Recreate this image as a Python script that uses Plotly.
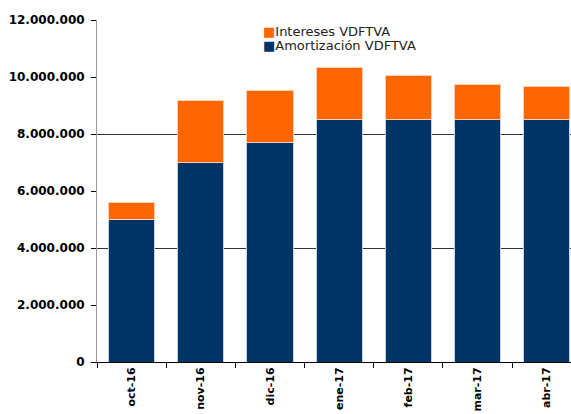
import plotly.graph_objects as go

# Meses y valores
months = ["oct-16", "nov-16", "dic-16", "ene-17", "feb-17", "mar-17", "abr-17"]
amortizacion = [5000000, 7000000, 7700000, 8500000, 8500000, 8500000, 8500000]
intereses = [580000, 2180000, 1840000, 1820000, 1570000, 1220000, 1180000]

y_ticks = [0, 2000000, 4000000, 6000000, 8000000, 10000000, 12000000]

blue = "#003366"
orange = "#FF6600"

fig = go.Figure()
fig.add_trace(go.Bar(x=months, y=amortizacion, name="Amortización VDFTVA",
                     marker=dict(color=blue, line=dict(color="#c8d2e4", width=1))))
fig.add_trace(go.Bar(x=months, y=intereses, name="Intereses VDFTVA",
                     marker=dict(color=orange, line=dict(color="#ffd0b0", width=1))))

# eje auxiliar solo para las líneas de cuadrícula cada 4 millones
fig.add_trace(go.Scatter(x=[months[0]], y=[0], yaxis="y2", showlegend=False,
                         mode="markers", marker=dict(opacity=0), hoverinfo="skip"))

# leyenda compacta como en el original
legend_rows = [("Intereses VDFTVA", orange, 0.965), ("Amortización VDFTVA", blue, 0.924)]
for label, col, ypos in legend_rows:
    fig.add_annotation(xref="paper", yref="paper", x=0.345, y=ypos,
                       xanchor="left", yanchor="middle", showarrow=False,
                       text=f"<span style='color:{col}'>■</span>{label}",
                       font=dict(size=13, color="#222"))

fig.update_layout(
    width=571, height=414,
    margin=dict(l=97, r=0, t=20, b=52),
    barmode="stack",
    bargap=0.33,
    showlegend=False,
    plot_bgcolor="white",
    paper_bgcolor="white",
    separators=",.",
    font=dict(family="DejaVu Sans", color="black"),
    xaxis=dict(range=[-0.5, 6.35], tickangle=-90, tickson="boundaries",
               ticks="outside", ticklen=5, tickcolor="black",
               showline=True, linecolor="black", linewidth=1,
               tickfont=dict(size=11, weight="bold"), automargin=False),
    yaxis=dict(range=[0, 12000000], tickvals=y_ticks, tickformat=",d",
               ticks="outside", ticklen=5, tickcolor="black",
               showline=True, linecolor="#999", linewidth=1,
               showgrid=False, zeroline=False, ticklabelstandoff=4,
               tickfont=dict(size=12, weight="bold"), automargin=False),
    yaxis2=dict(range=[0, 12000000], overlaying="y", dtick=4000000,
                showgrid=True, gridcolor="#333", gridwidth=1,
                showticklabels=False, ticks="", zeroline=False),
)

# quitar el margen por defecto del body para que ocupe toda la ventana
fig.write_html("out.html", config={"displayModeBar": False},
               post_script="document.body.style.margin='0';document.body.style.overflow='hidden';")
